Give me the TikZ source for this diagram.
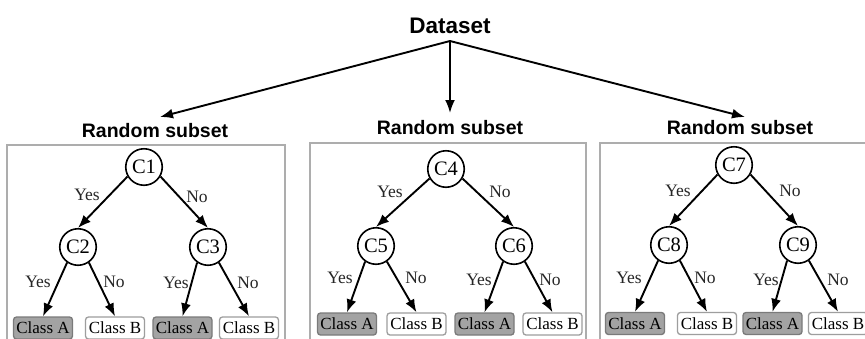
\documentclass[tikz,border=0pt]{standalone}
\usepackage{fontspec}
\setmainfont{Liberation Serif}
\newfontfamily\hdfont{Liberation Sans}
\usetikzlibrary{arrows.meta}
\begin{document}
\begin{tikzpicture}[x=1pt,y=-1pt,
  panel/.style={draw=black!32, line width=2.4pt},
  cnode/.style={circle, draw=black, line width=1.6pt, minimum size=36.5pt, inner sep=0pt, fill=white, font=\fontsize{20.5}{20.5}\selectfont},
  clsA/.style={draw=black!52, fill=black!36, rounded corners=3pt, line width=1.3pt, minimum width=59pt, minimum height=22pt, inner sep=0pt, font=\fontsize{17}{17}\selectfont},
  clsB/.style={clsA, draw=black!38, fill=white},
  lab/.style={inner sep=0pt, text=black!85, font=\fontsize{17.5}{17.5}\selectfont},
  ttl/.style={anchor=base, inner sep=0pt, font=\hdfont\bfseries\fontsize{19.5}{19.5}\selectfont},
  arr/.style={-{Latex[length=13pt,width=10pt]}, line width=1.9pt}
]
\useasboundingbox (0,0) rectangle (865,338);
\clip (0,0) rectangle (865,338);
\fill[white] (0,0) rectangle (865,338);

% top
\node[anchor=base, inner sep=0pt, font=\hdfont\bfseries\fontsize{22.5}{22.5}\selectfont] (ds) at (450,33) {Dataset};
\coordinate (dsb) at (450,41);
\coordinate (tipL) at (160,117);
\coordinate (tipM) at (450,113);
\coordinate (tipR) at (745,117);
\draw[arr] (dsb) -- (tipL);
\draw[arr] (dsb) -- (tipM);
\draw[arr] (dsb) -- (tipR);

% panels
\draw[panel] (7,145) rectangle (285,360);
\draw[panel] (310,143) rectangle (586,360);
\draw[panel] (600,143) rectangle (880,360);

% titles
\node[ttl] (t1) at (155,137) {Random subset};
\node[ttl] (t2) at (450,134) {Random subset};
\node[ttl] (t3) at (740,134) {Random subset};

% ---------- tree 1
\node[cnode] (c1) at (144,167) {C1};
\node[cnode] (c2) at (78,247) {C2};
\node[cnode] (c3) at (208,247) {C3};
\node[clsA] (a11) at (43,328) {Class A};
\node[clsB] (b11) at (115,328) {Class B};
\node[clsA] (a12) at (182.5,328) {Class A};
\node[clsB] (b12) at (249,328) {Class B};
\draw[arr] (c1.210) -- (c2.north);
\draw[arr] (c1.330) -- (c3.north);
\draw[arr] (c2.235) -- (a11.north);
\draw[arr] (c2.305) -- (b11.north);
\draw[arr] (c3.235) -- (a12.north);
\draw[arr] (c3.305) -- (b12.north);
\node[lab] (y11) at (87,195) {Yes};
\node[lab] (n11) at (197,197) {No};
\node[lab] (y12) at (38,282) {Yes};
\node[lab] (n12) at (114,282) {No};
\node[lab] (y13) at (176,283) {Yes};
\node[lab] (n13) at (248,283) {No};

% ---------- tree 2
\node[cnode] (c4) at (446,169) {C4};
\node[cnode] (c5) at (376,246) {C5};
\node[cnode] (c6) at (514,246) {C6};
\node[clsA] (a21) at (347,324) {Class A};
\node[clsB] (b21) at (416.5,324) {Class B};
\node[clsA] (a22) at (484.5,324) {Class A};
\node[clsB] (b22) at (552.5,324) {Class B};
\draw[arr] (c4.210) -- (c5.north);
\draw[arr] (c4.330) -- (c6.north);
\draw[arr] (c5.235) -- (a21.north);
\draw[arr] (c5.305) -- (b21.north);
\draw[arr] (c6.235) -- (a22.north);
\draw[arr] (c6.305) -- (b22.north);
\node[lab] (y21) at (390,192) {Yes};
\node[lab] (n21) at (500,192) {No};
\node[lab] (y22) at (340,278) {Yes};
\node[lab] (n22) at (416,278) {No};
\node[lab] (y23) at (479,280) {Yes};
\node[lab] (n23) at (550,280) {No};

% ---------- tree 3
\node[cnode] (c7) at (734,165) {C7};
\node[cnode] (c8) at (669,245) {C8};
\node[cnode] (c9) at (798,245) {C9};
\node[clsA] (a31) at (635,323.5) {Class A};
\node[clsB] (b31) at (707,323.5) {Class B};
\node[clsA] (a32) at (772.5,323.5) {Class A};
\node[clsB] (b32) at (838,323.5) {Class B};
\draw[arr] (c7.210) -- (c8.north);
\draw[arr] (c7.330) -- (c9.north);
\draw[arr] (c8.235) -- (a31.north);
\draw[arr] (c8.305) -- (b31.north);
\draw[arr] (c9.235) -- (a32.north);
\draw[arr] (c9.305) -- (b32.north);
\node[lab] (y31) at (678,191) {Yes};
\node[lab] (n31) at (790,191) {No};
\node[lab] (y32) at (629,278) {Yes};
\node[lab] (n32) at (705,278) {No};
\node[lab] (y33) at (766,280) {Yes};
\node[lab] (n33) at (838,280) {No};
\end{tikzpicture}
\end{document}
